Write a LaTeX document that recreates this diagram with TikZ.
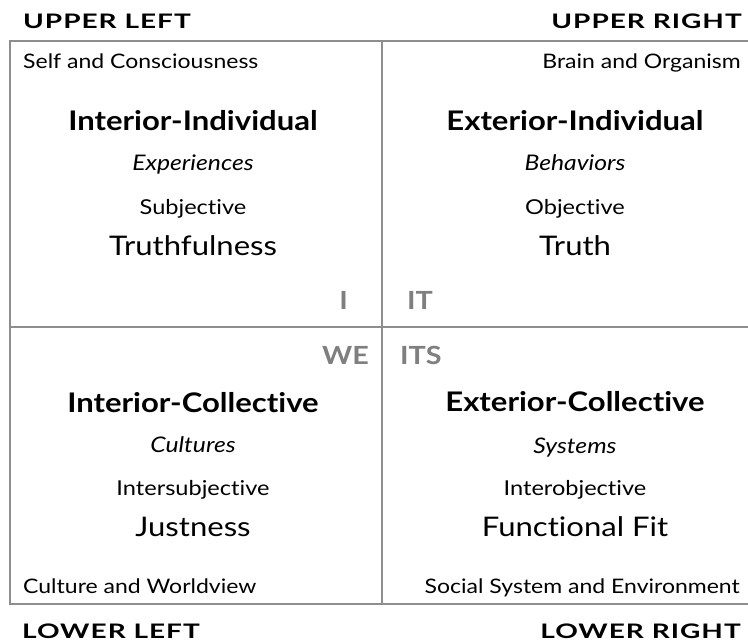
\documentclass[tikz,border=0pt]{standalone}
\usepackage{fontspec}
\setmainfont[FakeStretch=1.15, Ligatures=CommonOff]{Lato}
\usepackage{tikz}
\usetikzlibrary{positioning}
\definecolor{frameGray}{HTML}{8E8E8E}
\definecolor{pronounGray}{HTML}{7F7F7F}

\tikzset{
    quadrant/.style={font=\bfseries\fontsize{20}{20}\selectfont\addfontfeature{FakeStretch=1.4, LetterSpace=5}, inner sep=0pt},
    zone/.style={font=\fontsize{20}{20}\selectfont, inner sep=0pt},
    title/.style={font=\bfseries\fontsize{27}{27}\selectfont, inner sep=0pt, anchor=base},
    realm/.style={font=\itshape\fontsize{21.5}{21.5}\selectfont, inner sep=0pt, anchor=base},
    stance/.style={font=\fontsize{20.5}{20.5}\selectfont, inner sep=0pt, anchor=base},
    claim/.style={font=\fontsize{27}{27}\selectfont, inner sep=0pt, anchor=base},
    pronoun/.style={font=\bfseries\fontsize{25}{25}\selectfont, text=pronounGray, inner sep=0pt},
    frame/.style={draw=frameGray, line width=1.8pt}
}

\begin{document}
\begin{tikzpicture}[x=1pt, y=-1pt]
    \clip (0,0) rectangle (748,641);

    % Define coordinates for the frame
    \coordinate (TL) at (10,41);
    \coordinate (TR) at (770,41);
    \coordinate (BL) at (10,604);
    \coordinate (BR) at (770,604);
    \coordinate (TM) at (382,41);
    \coordinate (BM) at (382,604);
    \coordinate (ML) at (10,327);
    \coordinate (MR) at (770,327);

    % Draw the quadrant frame
    \draw[frame] (TR) -- (TL) -- (BL) -- (BR);
    \draw[frame] (TM) -- (BM);
    \draw[frame] (ML) -- (MR);

    % Corner labels
    \node[quadrant, anchor=base west] (UL) at (23,28) {UPPER LEFT};
    \node[quadrant, anchor=base east] (UR) at (742,28) {UPPER RIGHT};
    \node[quadrant, anchor=base west] (LL) at (22,638) {LOWER LEFT};
    \node[quadrant, anchor=base east] (LR) at (741,638) {LOWER RIGHT};

    % Zone labels inside the frame
    \node[zone, anchor=base west] (SelfZone) at (23,68) {Self and Consciousness};
    \node[zone, anchor=base east] (BrainZone) at (741,68) {Brain and Organism};
    \node[zone, anchor=base west] (CultureZone) at (23,593) {Culture and Worldview};
    \node[zone, anchor=base east] (SocialZone) at (740,593) {Social System and Environment};

    % Upper left quadrant
    \node[title] (IntInd) at (193,130) {Interior-Individual};
    \node[realm] (Exper) at (193,170) {Experiences};
    \node[stance] (Subj) at (193,214) {Subjective};
    \node[claim] (Truthful) at (193,255) {Truthfulness};

    % Upper right quadrant
    \node[title] (ExtInd) at (575,130) {Exterior-Individual};
    \node[realm] (Behav) at (575,170) {Behaviors};
    \node[stance] (Obj) at (575,214) {Objective};
    \node[claim] (Truth) at (575,255) {Truth};

    % Lower left quadrant
    \node[title] (IntCol) at (193,412) {Interior-Collective};
    \node[realm] (Cult) at (193,452) {Cultures};
    \node[stance] (InterSubj) at (193,495) {Intersubjective};
    \node[claim] (Just) at (193,536) {Justness};

    % Lower right quadrant
    \node[title] (ExtCol) at (575,411) {Exterior-Collective};
    \node[realm] (Syst) at (575,453) {Systems};
    \node[stance] (InterObj) at (575,495) {Interobjective};
    \node[claim] (FuncFit) at (575,536) {Functional Fit};

    % Pronouns around the centre
    \node[pronoun, anchor=base east] (PronI) at (348,309) {I};
    \node[pronoun, anchor=base west] (PronIt) at (407,309) {IT};
    \node[pronoun, anchor=base east] (PronWe) at (369,364) {WE};
    \node[pronoun, anchor=base west] (PronIts) at (400,364) {ITS};

\end{tikzpicture}
\end{document}
